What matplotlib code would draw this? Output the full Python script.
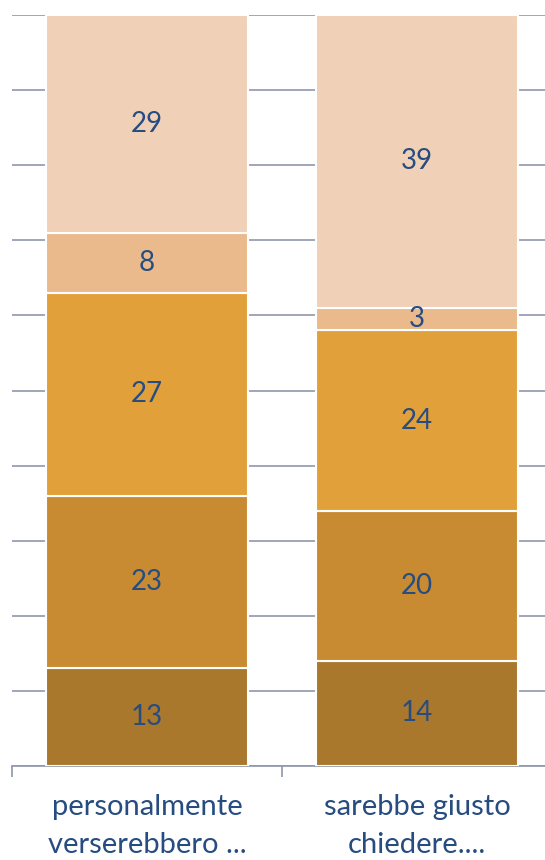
import matplotlib
matplotlib.use("Agg")
import matplotlib.pyplot as plt
import numpy as np

categories = ["personalmente\nverserebbero ...", "sarebbe giusto\nchiedere...."]
seg1 = [13, 14]
seg2 = [23, 20]
seg3 = [27, 24]
seg4 = [8, 3]
seg5 = [29, 39]

series = [seg1, seg2, seg3, seg4, seg5]
colors = ["#A9782C", "#C98B32", "#E2A03A", "#EABA8C", "#F0D1B7"]
text_color = "#264C80"
grid_color = "#8E97AB"

plt.rcParams["font.family"] = ["Lato", "DejaVu Sans"]

fig = plt.figure(figsize=(5.45, 8.6), dpi=100)
ax = fig.add_axes([12 / 545, 94 / 860, 540 / 545, 751 / 860])

x = np.arange(len(categories))
bottom = np.zeros(len(categories))
for vals, col in zip(series, colors):
    bars = ax.bar(x, vals, 0.75, bottom=bottom, color=col,
                  edgecolor="white", linewidth=1.5, zorder=3)
    for rect, v in zip(bars, vals):
        ax.text(rect.get_x() + rect.get_width() / 2,
                rect.get_y() + rect.get_height() / 2, str(v),
                ha="center", va="center", fontsize=20,
                color=text_color, zorder=4)
    bottom += np.array(vals)

ax.set_xlim(-0.5, 1.5)
ax.set_ylim(0, 100)
ax.set_yticks(np.arange(0, 101, 10))
ax.yaxis.grid(True, color=grid_color, linewidth=1.2, zorder=0)
ax.tick_params(axis="y", length=0, labelleft=False)

ax.set_xticks([-0.5, 0.5, 1.5], minor=True)
ax.set_xticks(x)
ax.set_xticklabels(categories, fontsize=21, color=text_color, linespacing=1.6)
ax.tick_params(axis="x", which="major", length=0, pad=20)
ax.tick_params(axis="x", which="minor", length=8, width=1.2, color=grid_color)

for s in ["left", "right", "top"]:
    ax.spines[s].set_visible(False)
ax.spines["bottom"].set_color(grid_color)
ax.spines["bottom"].set_linewidth(1.2)

fig.savefig("out.png", dpi=100)
